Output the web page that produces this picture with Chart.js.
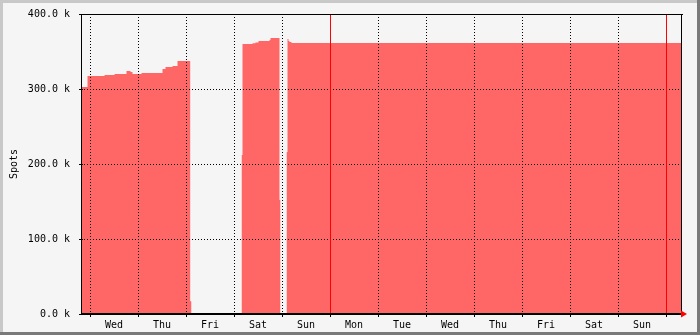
<!DOCTYPE html>
<html>
<head>
<meta charset="utf-8">
<script src="https://cdn.jsdelivr.net/npm/chart.js@4/dist/chart.umd.min.js"></script>
<style>
  body { margin: 0; background: #f5f5f5; }
  canvas { display: block; }
</style>
</head>
<body>
<canvas id="spotsChart" width="700" height="335"></canvas>
<script>
// hours since the first Wednesday 00:00, value of spots (in thousands) holds until the next point
const hours = [-4.5, -1.25, 7.25, 12.25, 18.25, 20.25, 21.25, 25.75, 36.25, 37.75, 41.25, 43.75, 50.1, 50.75,
               60,
               75.75, 76.25, 81.25, 82.75, 84.25, 89.75, 90.25, 94.75, 95.25,
               97,
               98.25, 98.75, 99.25, 99.75, 100.75, 295.5];
const spots = [302.7, 317.3, 318.7, 320, 324, 322.7, 320, 321.3, 326.7, 329.3, 330.7, 337.3, 17, 17,
               null,
               212, 360, 361, 362, 364, 365.3, 368, 152, 152,
               null,
               216, 366.7, 364, 362.7, 361.3, 361.3];

const dayNames = ['Wed', 'Thu', 'Fri', 'Sat', 'Sun', 'Mon', 'Tue', 'Wed', 'Thu', 'Fri', 'Sat', 'Sun'];
const dayStarts = [0, 24, 48, 72, 96, 120, 144, 168, 192, 216, 240, 264, 288];
const weekStarts = [120, 288];
const yTicks = [0, 100, 200, 300, 400];

const monoFont = { family: 'DejaVu Sans Mono', size: 10 };

const frame = {
    id: 'frame',
    beforeDraw(chart) {
        const c = chart.ctx;
        const w = chart.width, h = chart.height;
        c.save();
        c.fillStyle = '#f5f5f5';
        c.fillRect(0, 0, w, h);
        c.fillStyle = '#c8c8c8';
        c.fillRect(0, 0, w, 3);
        c.fillRect(0, 0, 3, h);
        c.fillStyle = '#7a7a7a';
        c.fillRect(w - 3, 0, 3, h);
        c.fillRect(0, h - 3, w, 3);
        c.restore();
    },
    afterDraw(chart) {
        const c = chart.ctx;
        const a = chart.chartArea;
        const xs = chart.scales.xg;
        const ys = chart.scales.y;
        c.save();
        // week lines
        c.strokeStyle = '#ff0000';
        c.lineWidth = 1;
        weekStarts.forEach(v => {
            const px = Math.round(xs.getPixelForValue(v)) + 0.5;
            c.beginPath();
            c.moveTo(px, a.top);
            c.lineTo(px, a.bottom);
            c.stroke();
        });
        // tick marks
        c.strokeStyle = '#000';
        dayStarts.forEach(v => {
            const px = Math.round(xs.getPixelForValue(v)) + 0.5;
            c.beginPath();
            c.moveTo(px, a.bottom);
            c.lineTo(px, a.bottom + 3);
            c.stroke();
        });
        yTicks.forEach(v => {
            const py = Math.round(ys.getPixelForValue(v)) + 0.5;
            c.beginPath();
            c.moveTo(a.left - 2, py);
            c.lineTo(a.left + 2, py);
            c.stroke();
        });
        // frame lines
        c.beginPath();
        c.moveTo(a.left + 0.5, a.top);
        c.lineTo(a.left + 0.5, a.bottom);
        c.moveTo(a.left, a.top + 0.5);
        c.lineTo(a.right + 2, a.top + 0.5);
        c.moveTo(a.right + 0.5, a.top);
        c.lineTo(a.right + 0.5, a.bottom);
        c.stroke();
        c.lineWidth = 2;
        c.beginPath();
        c.moveTo(a.left, a.bottom);
        c.lineTo(a.right + 1, a.bottom);
        c.stroke();
        // arrow
        c.fillStyle = '#ff0000';
        c.beginPath();
        c.moveTo(a.right, a.bottom - 3.5);
        c.lineTo(a.right + 6, a.bottom);
        c.lineTo(a.right, a.bottom + 3.5);
        c.closePath();
        c.fill();
        c.restore();
    }
};

new Chart(document.getElementById('spotsChart'), {
    type: 'line',
    data: {
        datasets: [{
            label: 'Spots',
            data: hours.map((h, i) => ({ x: h, y: spots[i] })),
            stepped: true,
            fill: 'origin',
            backgroundColor: '#ff6666',
            borderWidth: 0,
            pointRadius: 0,
            spanGaps: false
        }]
    },
    options: {
        responsive: false,
        animation: false,
        devicePixelRatio: 1,
        layout: { padding: { left: 0, top: 14, right: 19, bottom: 0 } },
        plugins: { legend: { display: false }, tooltip: { enabled: false } },
        scales: {
            x: {
                type: 'linear',
                position: 'bottom',
                min: -4.5,
                max: 295.5,
                afterBuildTicks: s => { s.ticks = dayNames.map((_, i) => ({ value: dayStarts[i] + 12 })); },
                afterFit: s => { s.height = 21; s.paddingLeft = 0; s.paddingRight = 0; },
                grid: { display: false, drawTicks: false },
                border: { display: false },
                ticks: {
                    color: '#000',
                    font: monoFont,
                    padding: 5,
                    maxRotation: 0,
                    autoSkip: false,
                    callback: (v, i) => dayNames[i]
                }
            },
            xg: {
                type: 'linear',
                position: 'bottom',
                min: -4.5,
                max: 295.5,
                afterBuildTicks: s => { s.ticks = dayStarts.map(v => ({ value: v })); },
                afterFit: s => { s.height = 0; s.paddingLeft = 0; s.paddingRight = 0; },
                grid: { color: '#000', lineWidth: 1, drawTicks: false, z: 1 },
                border: { display: false, dash: [1, 2] },
                ticks: { display: false }
            },
            y: {
                min: 0,
                max: 400,
                afterBuildTicks: s => { s.ticks = yTicks.map(v => ({ value: v })); },
                afterFit: s => { s.width = 81; s.paddingTop = 0; s.paddingBottom = 0; },
                grid: { color: '#000', lineWidth: 1, drawTicks: false, z: 1 },
                border: { display: false, dash: [1, 2] },
                ticks: {
                    color: '#000',
                    font: monoFont,
                    padding: 11,
                    callback: v => v.toFixed(1) + ' k'
                },
                title: {
                    display: true,
                    text: 'Spots',
                    color: '#000',
                    font: monoFont,
                    padding: { top: 8, bottom: 0 }
                }
            }
        }
    },
    plugins: [frame]
});
</script>
</body>
</html>
